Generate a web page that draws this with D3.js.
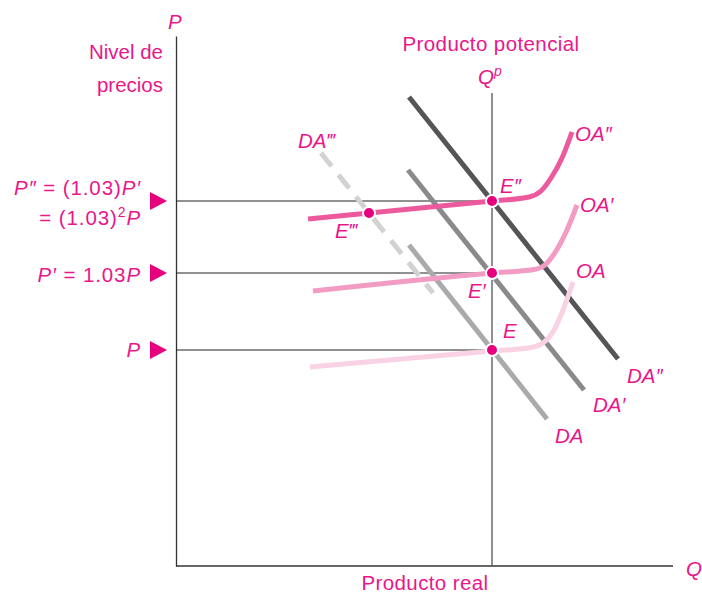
<!DOCTYPE html>
<html>
<head>
<meta charset="utf-8">
<script src="https://cdn.jsdelivr.net/npm/d3@7"></script>
<style>
  body { margin: 0; background: #fff; }
  text { font-family: "Liberation Sans", Arial, sans-serif; }
</style>
</head>
<body>
<div id="chart"></div>
<script>
// Potential output and price levels (abstract units)
var qPot = 63.2;
var priceLevels = [43.2, 58.6, 73];
var priceNames = ["P", "P′", "P″"];

// Aggregate demand lines [q, p] endpoints
var daNames = ["DA", "DA′", "DA″", "DA‴"];
var daLines = [
    [[46.6, 64.2], [74.2, 29.4]],
    [[46.4, 79.2], [81.6, 35.2]],
    [[46.6, 93.8], [88.4, 41.4]],
    [[29.0, 82.6], [51.4, 54.6]]
];

// Aggregate supply curves [q, p]
var oaNames = ["OA", "OA′", "OA″"];
var oaCurves = [
    [[26.8, 39.8], [63.2, 43.0], [71.0, 43.7], [73.4, 44.6], [75.6, 47.2], [77.4, 51.2], [79.4, 56.8]],
    [[27.4, 55.0], [63.2, 58.6], [71.6, 59.3], [74.0, 60.4], [76.0, 63.0], [78.2, 67.2], [80.2, 72.2]],
    [[26.4, 69.4], [63.2, 73.0], [70.6, 73.8], [73.0, 75.0], [75.0, 77.6], [77.2, 81.6], [79.2, 86.8]]
];

// Equilibrium points
var eqNames = ["E", "E′", "E″", "E‴"];
var eqPoints = [[63.2, 43.2], [63.2, 58.6], [63.2, 73], [38.6, 70.6]];

function init() {
    var w = 702;
    var h = 594;
    var pink = "#e8178a";
    var fs = 20.5;

    var svg = d3.select("#chart").append("svg")
        .attr("width", w)
        .attr("height", h);

    var x = d3.scaleLinear().domain([0, 100]).range([176, 676]);
    var y = d3.scaleLinear().domain([0, 106]).range([566, 36]);

    // axes without ticks
    svg.append("g")
        .attr("transform", "translate(0," + y(0) + ")")
        .call(d3.axisBottom(x).tickValues([]).tickSizeOuter(0))
        .select(".domain").attr("stroke", "#333").attr("stroke-width", 1.3)
        .attr("d", "M" + x(0) + ",0H" + x(99.4));
    svg.append("g")
        .attr("transform", "translate(" + x(0) + ",0)")
        .call(d3.axisLeft(y).tickValues([]).tickSizeOuter(0))
        .select(".domain").attr("stroke", "#333").attr("stroke-width", 1.3);

    // potential output line
    svg.append("line")
        .attr("x1", x(qPot)).attr("x2", x(qPot))
        .attr("y1", y(0)).attr("y2", y(94.6))
        .attr("stroke", "#555").attr("stroke-width", 1.3);

    // price guide lines
    svg.selectAll(".guide")
        .data(priceLevels)
        .enter().append("line")
        .attr("x1", x(0)).attr("x2", x(qPot))
        .attr("y1", function(d) { return y(d); })
        .attr("y2", function(d) { return y(d); })
        .attr("stroke", "#222").attr("stroke-width", 1);

    // pointer triangles
    svg.selectAll(".tri")
        .data(priceLevels)
        .enter().append("path")
        .attr("d", function(d) {
            var yy = y(d);
            return "M150," + (yy - 9) + "L167," + yy + "L150," + (yy + 9) + "Z";
        })
        .attr("fill", "#e6007e");

    // demand lines
    var daColors = ["#aaaaac", "#8a8a8c", "#555557", "#d2d2d2"];
    var line = d3.line().x(function(d) { return x(d[0]); }).y(function(d) { return y(d[1]); });
    svg.selectAll(".da")
        .data(daLines)
        .enter().append("path")
        .attr("d", line)
        .attr("fill", "none")
        .attr("stroke", function(d, i) { return daColors[i]; })
        .attr("stroke-width", 5)
        .attr("stroke-dasharray", function(d, i) { return i == 3 ? "17,11" : null; });

    // supply curves
    var oaColors = ["#f9d2e3", "#f39cc3", "#ec5a9d"];
    var curve = d3.line().curve(d3.curveMonotoneX)
        .x(function(d) { return x(d[0]); }).y(function(d) { return y(d[1]); });
    svg.selectAll(".oa")
        .data(oaCurves)
        .enter().append("path")
        .attr("d", curve)
        .attr("fill", "none")
        .attr("stroke", function(d, i) { return oaColors[i]; })
        .attr("stroke-width", 5);

    // equilibrium dots
    svg.selectAll(".eq")
        .data(eqPoints)
        .enter().append("circle")
        .attr("cx", function(d) { return x(d[0]); })
        .attr("cy", function(d) { return y(d[1]); })
        .attr("r", 6)
        .attr("fill", "#e6007e")
        .attr("stroke", "#fff")
        .attr("stroke-width", 2);

    function label(tx, ty, str, opts) {
        opts = opts || {};
        return svg.append("text")
            .attr("x", tx).attr("y", ty)
            .attr("fill", pink)
            .attr("font-size", opts.size || fs)
            .attr("font-style", opts.italic ? "italic" : "normal")
            .attr("text-anchor", opts.anchor || "start")
            .text(str);
    }

    // curve labels
    var daLabelPos = [[555, 443], [593, 412], [627, 383], [298, 148]];
    daNames.forEach(function(n, i) { label(daLabelPos[i][0], daLabelPos[i][1], n, {italic: true}); });
    var oaLabelPos = [[576, 278], [580, 212], [575, 141]];
    oaNames.forEach(function(n, i) { label(oaLabelPos[i][0], oaLabelPos[i][1], n, {italic: true}); });
    var eqLabelPos = [[503, 338], [468, 298], [500, 193], [335, 238]];
    eqNames.forEach(function(n, i) { label(eqLabelPos[i][0], eqLabelPos[i][1], n, {italic: true}); });

    // axis labels
    label(168, 29, "P", {italic: true});
    label(686, 576, "Q", {italic: true});
    label(163, 59, "Nivel de", {anchor: "end"});
    label(163, 92, "precios", {anchor: "end"});
    label(491, 51, "Producto potencial", {anchor: "middle"}).attr("letter-spacing", 0.4);
    label(425, 590, "Producto real", {anchor: "middle"}).attr("letter-spacing", 0.4);
    var qp = label(478, 84, "Q", {italic: true});
    qp.append("tspan").attr("font-size", 14).attr("dy", -8).text("p");

    // price level labels (mixed italic)
    function mixed(ty, parts) {
        var t = svg.append("text")
            .attr("x", 141).attr("y", ty)
            .attr("fill", pink)
            .attr("font-size", fs)
            .attr("letter-spacing", 0.9)
            .attr("text-anchor", "end");
        parts.forEach(function(p) {
            var s = t.append("tspan").text(p[0]).attr("font-style", p[1] ? "italic" : "normal");
            if (p[2]) s.attr("dy", p[2]);
            if (p[3]) s.attr("font-size", p[3]);
        });
    }
    mixed(195, [["P″", 1], [" = (1.03)", 0], ["P′", 1]]);
    mixed(225, [["= (1.03)", 0], ["2", 0, -8, 14], ["P", 1, 8]]);
    mixed(282, [["P′", 1], [" = 1.03", 0], ["P", 1]]);
    mixed(357, [["P", 1]]);
}

window.onload = init;
</script>
</body>
</html>
